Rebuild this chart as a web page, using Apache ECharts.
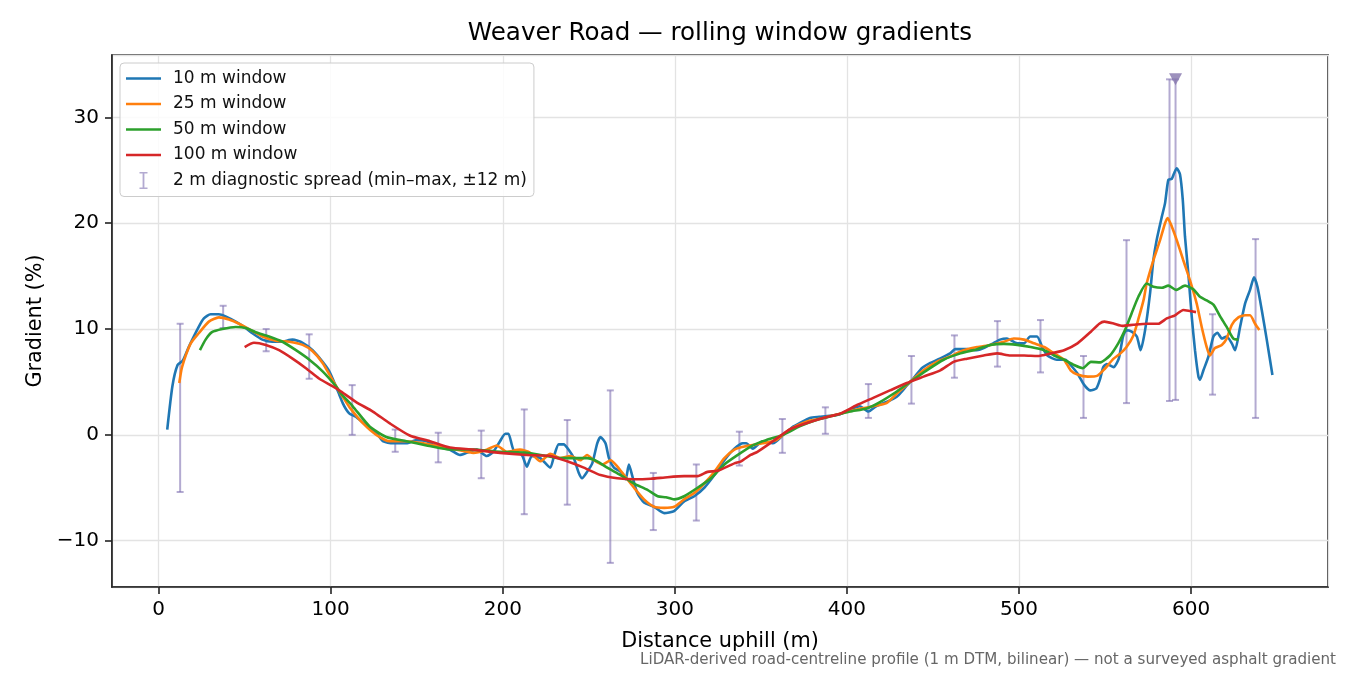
<!DOCTYPE html>
<html>
<head>
<meta charset="utf-8">
<title>Weaver Road gradients</title>
<script src="https://cdn.jsdelivr.net/npm/echarts@6/dist/echarts.min.js"></script>
<style>
  html, body { margin: 0; padding: 0; background: #fff; }
  #main { width: 1350px; height: 675px; }
</style>
</head>
<body>
<div id="main"></div>
<script>
// distance uphill (m), gradient (%)
var win10 = [
  [5, 0.5], [8, 4.6], [11, 6.6], [14, 7.0], [17.5, 8.3], [23.3, 10.2], [26.3, 11.0], [30.2, 11.4],
  [35, 11.4], [38.9, 11.2], [44.8, 10.7], [50.6, 10.1], [54.5, 9.6], [60.3, 9.0], [66.1, 8.8],
  [71, 8.8], [77.8, 9.0], [83.7, 8.7], [89.5, 8.0], [95.3, 6.9], [99.2, 6.0], [103, 4.6],
  [105, 3.8], [107, 3.0], [109, 2.4], [111, 2.0], [114.8, 1.7], [120.6, 0.9], [126.5, 0.2],
  [130.3, -0.6], [136.2, -0.8], [144, -0.8], [149.8, -0.5], [155.7, -0.6], [161.5, -1.1],
  [169.3, -1.4], [175.1, -1.9], [179, -1.7], [184.8, -1.4], [190.7, -2.0], [194.5, -1.6],
  [198.4, -0.6], [201.5, 0.1], [203.3, 0.1], [206.2, -1.4], [211.1, -1.9], [214, -3.0], [216.9, -2.0],
  [221.8, -2.2], [227.6, -3.1], [229.8, -2.0], [232.5, -0.9], [235.4, -0.9], [238.3, -1.4],
  [241.3, -2.2], [244.2, -3.6], [246.1, -4.1], [249, -3.5], [252, -2.7], [254.9, -0.8],
  [256.8, -0.2], [259.7, -0.8], [261.7, -2.2], [264.6, -3.1], [268.5, -3.5], [271.4, -4.2],
  [273.3, -2.8], [275.3, -3.9], [278.2, -5.5], [282.1, -6.4], [287.9, -6.8], [293.8, -7.4],
  [299.6, -7.2], [305.4, -6.3], [311.3, -5.8], [317.1, -5.0], [323, -3.8], [328.8, -2.4],
  [334.6, -1.3], [339.5, -0.8], [341.5, -0.8], [345.3, -1.3], [351, -0.6], [357, -0.8],
  [363, 0], [369, 0.8], [372.5, 1.1], [378.5, 1.6], [384, 1.7], [390, 1.8], [396, 1.95],
  [402, 2.4], [407.5, 2.7], [412.5, 2.2], [417, 2.7], [423, 3.1], [429, 3.6], [432, 4.1],
  [435, 4.7], [438.5, 5.3], [443.5, 6.3], [448.5, 6.8], [454, 7.2], [460, 7.7], [463, 8.1],
  [470, 8.1], [475.5, 8.0], [479.5, 8.2], [485, 8.65], [489, 9.0], [493, 9.1], [499, 8.65],
  [503, 8.65], [506.5, 9.3], [510.5, 9.3], [513.5, 8.3], [516.5, 7.5], [522, 7.1], [527, 7.1],
  [530, 6.6], [534, 5.8], [538, 4.7], [541.5, 4.2], [545, 4.4], [547, 5.2], [549, 6.4],
  [551, 6.7], [555, 6.4], [558, 7.2], [560.5, 9.3], [562.5, 9.9], [565.5, 9.75], [568.5, 9.3],
  [570.7, 8.0], [573.3, 9.9], [576.2, 13.4], [578.1, 16.5], [580, 18.4], [583, 20.6],
  [584.9, 21.9], [586.8, 24.1], [588.8, 24.2], [590.1, 24.7], [591.7, 25.2], [593.6, 24.6],
  [595.2, 22.2], [596.5, 18.7], [598.4, 15.3], [600.4, 11.2], [602.3, 8.0], [604.3, 5.5],
  [605.2, 5.2], [607.2, 6.1], [610.1, 7.4], [613, 9.3], [615.3, 9.65], [617.9, 9.1],
  [620.7, 9.3], [623.7, 8.65], [625.6, 8.0], [628.5, 10.2], [631.4, 12.4], [634.3, 13.7],
  [636.6, 14.9], [638.6, 14.0], [641.1, 11.8], [644, 9.0], [647.3, 5.65]
];

var win25 = [
  [12, 4.9], [13.6, 6.4], [18.5, 8.6], [23.3, 9.6], [29.2, 10.7], [35, 11.1], [40.9, 10.9],
  [46.7, 10.5], [52.5, 10.0], [60.3, 9.3], [68.1, 8.9], [75.9, 8.8], [83.7, 8.5], [89.5, 7.9],
  [95.3, 6.8], [101, 5.2], [105, 4.1], [107, 3.6], [111, 2.6], [118.7, 1.1], [126.5, 0],
  [134.2, -0.6], [144, -0.6], [153.7, -0.8], [163.4, -1.1], [173.2, -1.4], [182.9, -1.7],
  [190.7, -1.4], [196.5, -1.0], [202.3, -1.6], [210, -1.4], [216, -1.7], [221.8, -2.5],
  [227.6, -1.8], [233.5, -2.2], [239.3, -2.0], [245.1, -2.4], [249, -1.9], [252.9, -2.4],
  [257.8, -2.8], [262.7, -2.4], [266.6, -3.0], [270.5, -3.8], [276.3, -5.0], [282.1, -6.1],
  [287.9, -6.8], [293.8, -6.9], [299.6, -6.8], [305.4, -6.1], [311.3, -5.5], [317.1, -4.6],
  [323, -3.5], [328.8, -2.2], [334.6, -1.4], [340.5, -1.1], [351, -0.8], [359, -0.5],
  [366.6, 0.5], [376.4, 1.25], [386.2, 1.6], [396, 2.0], [405.6, 2.4], [415.3, 2.7],
  [423, 3.0], [429, 3.9], [436.7, 5.0], [444.5, 6.1], [452.3, 6.9], [460, 7.4], [467, 7.95],
  [475.7, 8.3], [483.4, 8.5], [491.2, 8.8], [497, 9.1], [502.9, 9.0], [508.7, 8.65],
  [514.6, 8.3], [520.4, 7.7], [526.2, 7.1], [530, 6.1], [534, 5.7], [540, 5.5], [545.7, 5.6],
  [549.6, 6.2], [555, 7.2], [559, 7.7], [562.5, 8.3], [566.5, 9.4], [569.5, 11.0],
  [572.5, 12.8], [574.2, 14.3], [578.1, 16.5], [582, 18.4], [584.9, 20.0], [586.4, 20.5],
  [588.8, 19.7], [591.7, 18.4], [595.5, 16.5], [599.4, 14.6], [603.3, 12.4], [606.2, 10.2],
  [609.1, 8.3], [611, 7.5], [613.9, 8.2], [617.9, 8.5], [620.7, 9.1], [623.7, 10.4],
  [627.5, 11.1], [631.4, 11.3], [634.3, 11.3], [637.2, 10.5], [639.7, 9.9]
];

var win50 = [
  [24, 8.0], [27.3, 9.0], [31, 9.7], [37, 10.0], [44.8, 10.2], [50.6, 10.1], [56.4, 9.7],
  [64.2, 9.3], [72, 8.8], [79.8, 8.0], [87.6, 7.1], [95.3, 6.0], [103, 4.6], [106, 3.9],
  [112.8, 2.7], [122.6, 0.8], [132.3, -0.2], [144, -0.6], [155.7, -1.0], [167.3, -1.35],
  [182.9, -1.4], [198.4, -1.6], [214, -1.7], [225.7, -2.0], [233.5, -2.2], [241.3, -2.2],
  [249, -2.2], [254.9, -2.5], [260.7, -3.1], [268.5, -3.8], [276.3, -4.6], [284.1, -5.2],
  [290, -5.8], [294.8, -5.9], [299.6, -6.1], [305.4, -5.8], [313.2, -5.0], [321, -4.1],
  [328.8, -2.8], [336.6, -1.9], [345.3, -1.0], [353, -0.5], [362.8, 0], [372.5, 0.8],
  [382.3, 1.4], [392, 1.8], [401.7, 2.2], [411.5, 2.5], [419.2, 3.1], [429, 4.1],
  [436.7, 5.0], [446.4, 6.1], [456.2, 7.1], [466, 7.7], [475.7, 8.1], [483.4, 8.5],
  [491.2, 8.6], [499, 8.5], [506.8, 8.3], [514.6, 8.0], [520.4, 7.5], [526.2, 7.1],
  [532, 6.6], [537, 6.3], [541.8, 6.9], [547.3, 6.85], [552.9, 7.5], [557.7, 8.65],
  [561.6, 9.9], [565.5, 11.5], [569.4, 13.05], [574.2, 14.3], [578.1, 14.0], [583, 13.9],
  [586.8, 14.1], [591.3, 13.7], [596.5, 14.1], [601.4, 13.75], [605.2, 13.05], [609.1, 12.7],
  [613, 12.3], [616.9, 11.2], [620.7, 10.2], [624.6, 9.1], [627.5, 9.0]
];

var win100 = [
  [50, 8.3], [55.4, 8.7], [62.3, 8.5], [70, 8.0], [77.8, 7.2], [85.6, 6.3], [93.4, 5.3],
  [101, 4.6], [105, 4.2], [114.8, 3.1], [124.5, 2.2], [134.2, 1.1], [145.9, -0.06],
  [157.6, -0.6], [169.3, -1.2], [182.9, -1.4], [198.4, -1.7], [214, -1.9], [227.6, -2.0],
  [237.4, -2.5], [247.1, -3.1], [256.8, -3.8], [266.6, -4.1], [276.3, -4.2], [286, -4.15],
  [295.7, -4.0], [305.4, -3.9], [313.2, -3.9], [319, -3.5], [324.9, -3.4], [334.6, -2.7],
  [338.5, -2.5], [344, -1.9], [348, -1.6], [357, -0.6], [366.6, 0.5], [376.4, 1.1],
  [386.2, 1.6], [396, 2.0], [405.6, 2.8], [415.3, 3.5], [425, 4.2], [434.8, 4.9],
  [444.5, 5.5], [454.3, 6.1], [462, 6.9], [469.8, 7.2], [479.5, 7.5], [487.3, 7.7],
  [495, 7.5], [503, 7.5], [510.7, 7.45], [518.5, 7.7], [526.2, 8.0], [534, 8.65],
  [541.8, 9.75], [546.7, 10.5], [549.6, 10.7], [555.4, 10.5], [560, 10.3], [566.5, 10.4],
  [574.2, 10.5], [581, 10.5], [585.9, 11.0], [590.7, 11.3], [595.5, 11.8], [599.4, 11.7],
  [602.9, 11.6]
];

// 2 m diagnostic spread (min / max within +-12 m)
var spreadX  = [12.5, 37.5, 62.5, 87.5, 112.5, 137.5, 162.5, 187.5, 212.5, 237.5, 262.5, 287.5, 312.5,
                337.5, 362.5, 387.5, 412.5, 437.5, 462.5, 487.5, 512.5, 537.5, 562.5, 587.5, 591, 612.5, 637.5];
var spreadLo = [-5.4, 10.1, 7.9, 5.3, 0.0, -1.6, -2.6, -4.1, -7.5, -6.6, -12.1, -9.0, -8.1,
                -2.9, -1.7, 0.1, 1.6, 2.95, 5.4, 6.45, 5.9, 1.6, 3.0, 3.2, 3.3, 3.8, 1.6];
var spreadHi = [10.5, 12.2, 10.0, 9.5, 4.7, 0.5, 0.2, 0.4, 2.4, 1.4, 4.2, -3.6, -2.8,
                0.3, 1.5, 2.6, 4.8, 7.45, 9.4, 10.75, 10.85, 7.45, 18.4, 33.6, 33.6, 11.4, 18.5];

var peakMark = [[591, 33.6]];

var seriesNames = ['10 m window', '25 m window', '50 m window', '100 m window'];
var seriesColors = ['#1f77b4', '#ff7f0e', '#2ca02c', '#d62728'];
var spreadName = '2 m diagnostic spread (min\u2013max, \u00b112 m)';

var myChart = echarts.init(document.getElementById('main'));

function lineSeries(i, data) {
    return {
        name: seriesNames[i],
        type: 'line',
        data: data,
        symbol: 'none',
        smooth: 0.2,
        z: 3 + i,
        lineStyle: { color: seriesColors[i], width: 2.6 },
        itemStyle: { color: seriesColors[i] },
        emphasis: { disabled: true }
    };
}

var spreadData = spreadX.map(function (x, i) { return [x, spreadLo[i], spreadHi[i]]; });
var lineIcon = 'path://M0,0 H35 V2.6 H0 Z';

var options = {
    animation: false,
    backgroundColor: '#fff',
    textStyle: { fontFamily: 'DejaVu Sans' },
    grid: {
        left: 112, right: 22, top: 55, bottom: 88,
        show: true, borderColor: '#222', borderWidth: 1.6
    },
    legend: {
        orient: 'vertical',
        left: 120, top: 63,
        padding: [7, 7, 7.5, 6],
        itemWidth: 35, itemHeight: 17, itemGap: 8.5,
        backgroundColor: 'rgba(255,255,255,0.85)',
        borderColor: '#cccccc', borderWidth: 1, borderRadius: 4,
        textStyle: { fontFamily: 'DejaVu Sans', fontSize: 17, color: '#111', padding: [0, 0, 0, 7] },
        data: [
            { name: seriesNames[0], icon: lineIcon }, { name: seriesNames[1], icon: lineIcon },
            { name: seriesNames[2], icon: lineIcon }, { name: seriesNames[3], icon: lineIcon },
            { name: spreadName, icon: 'path://M0,0 H8 V1.6 H4.9 V15.4 H8 V17 H0 V15.4 H3.1 V1.6 H0 Z' }
        ]
    },
    graphic: [
        {
            type: 'text', x: 720, y: 34,
            style: { text: 'Weaver Road \u2014 rolling window gradients', fill: '#000',
                     font: '24.6px "DejaVu Sans"', textAlign: 'center', textVerticalAlign: 'middle' }
        },
        {
            type: 'text', x: 1336, y: 660,
            style: { text: 'LiDAR-derived road-centreline profile (1 m DTM, bilinear) \u2014 not a surveyed asphalt gradient',
                     fill: '#666', font: '15.1px "DejaVu Sans"', textAlign: 'right', textVerticalAlign: 'middle' }
        }
    ],
    xAxis: {
        type: 'value',
        min: -27.1, max: 679.6,
        name: 'Distance uphill (m)',
        nameLocation: 'middle', nameGap: 44,
        nameTextStyle: { fontSize: 20.8, color: '#000', fontFamily: 'DejaVu Sans' },
        axisLine: { show: true, onZero: false, lineStyle: { color: '#222', width: 1.6 } },
        axisTick: { show: true, length: 7, lineStyle: { color: '#222', width: 1.6 } },
        axisLabel: { fontSize: 20, color: '#000', margin: 13, showMinLabel: false, showMaxLabel: false },
        splitLine: { show: true, lineStyle: { color: '#e3e3e3', width: 1.3 } }
    },
    yAxis: {
        type: 'value',
        min: -14.38, max: 35.9,
        name: 'Gradient (%)',
        nameLocation: 'middle', nameGap: 64, nameRotate: 90,
        nameTextStyle: { fontSize: 20.8, color: '#000', fontFamily: 'DejaVu Sans' },
        axisLine: { show: true, onZero: false, lineStyle: { color: '#222', width: 1.6 } },
        axisTick: { show: true, length: 7, lineStyle: { color: '#222', width: 1.6 } },
        axisLabel: {
            fontSize: 20, color: '#000', margin: 13, showMinLabel: false, showMaxLabel: false,
            formatter: function (v) { return v < 0 ? '\u2212' + Math.abs(v) : String(v); }
        },
        splitLine: { show: true, lineStyle: { color: '#e3e3e3', width: 1.3 } }
    },
    series: [
        {
            name: spreadName,
            type: 'custom',
            z: 2,
            itemStyle: { color: 'rgba(129,114,179,0.6)' },
            data: spreadData,
            renderItem: function (params, api) {
                var x = api.value(0);
                var lo = api.coord([x, api.value(1)]);
                var hi = api.coord([x, api.value(2)]);
                var cap = 3.5;
                var st = { stroke: 'rgba(129,114,179,0.6)', lineWidth: 2 };
                return {
                    type: 'group',
                    children: [
                        { type: 'line', shape: { x1: lo[0], y1: lo[1], x2: hi[0], y2: hi[1] }, style: st },
                        { type: 'line', shape: { x1: lo[0] - cap, y1: lo[1], x2: lo[0] + cap, y2: lo[1] }, style: st },
                        { type: 'line', shape: { x1: hi[0] - cap, y1: hi[1], x2: hi[0] + cap, y2: hi[1] }, style: st }
                    ]
                };
            }
        },
        lineSeries(0, win10),
        lineSeries(1, win25),
        lineSeries(2, win50),
        lineSeries(3, win100),
        {
            name: 'peak',
            type: 'scatter',
            data: peakMark,
            symbol: 'triangle',
            symbolRotate: 180,
            symbolSize: [13, 12],
            z: 8,
            itemStyle: { color: '#8575ad' }
        }
    ]
};

myChart.setOption(options);
</script>
</body>
</html>
